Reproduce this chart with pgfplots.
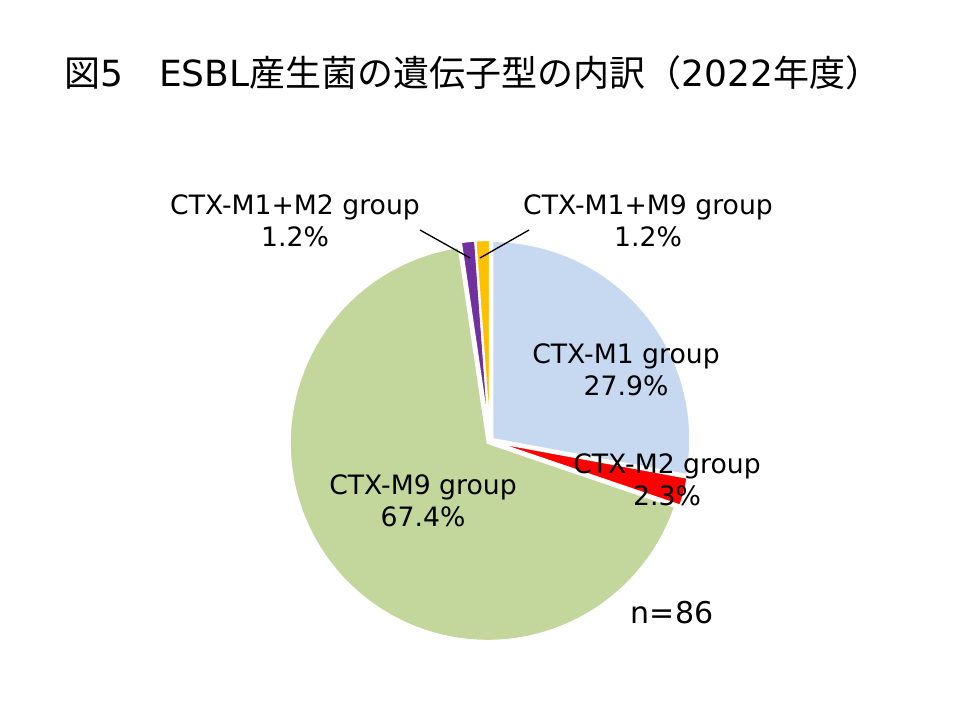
\documentclass[border=0pt]{standalone}
\usepackage{fontspec}
\setmainfont{DejaVu Sans}
\newfontfamily\cjk{Noto Sans CJK JP}
\usepackage{pgfplots}
\usepackage{pgfplotstable}
\pgfplotsset{compat=1.18}
\definecolor{cM1}{HTML}{C6D9F0}
\definecolor{cM2}{HTML}{FF0000}
\definecolor{cM9}{HTML}{C3D69B}
\definecolor{cM1M2}{HTML}{7030A0}
\definecolor{cM1M9}{HTML}{FFC000}
\pgfplotstableread{
label value
M1 24
M2 2
M9 58
M1M2 1
M1M9 1
}\datatable
\newcommand\slice[3]{%
 \pgfmathsetmacro\ox{490+3*sin((#1+#2)/2)}%
 \pgfmathsetmacro\oy{441-3*cos((#1+#2)/2)}%
 \edef\tmp{\noexpand\addplot[fill=#3, draw=white, line width=1.6pt, domain=#1:#2, samples=90] ({\ox+198*sin(x)},{\oy-198*cos(x)}) -- (axis cs:\ox,\oy) -- cycle;}\tmp}
\begin{document}
\begin{tikzpicture}
\pgfplotstablegetelem{0}{value}\of\datatable\pgfmathsetmacro\va{\pgfplotsretval}
\pgfplotstablegetelem{1}{value}\of\datatable\pgfmathsetmacro\vb{\pgfplotsretval}
\pgfplotstablegetelem{2}{value}\of\datatable\pgfmathsetmacro\vc{\pgfplotsretval}
\pgfplotstablegetelem{3}{value}\of\datatable\pgfmathsetmacro\vd{\pgfplotsretval}
\pgfplotstablegetelem{4}{value}\of\datatable\pgfmathsetmacro\ve{\pgfplotsretval}
\pgfmathsetmacro\tot{\va+\vb+\vc+\vd+\ve}
\pgfmathsetmacro\aA{360*(\va/\tot)}
\pgfmathsetmacro\aB{360*((\va+\vb)/\tot)}
\pgfmathsetmacro\aC{360*((\va+\vb+\vc)/\tot)}
\pgfmathsetmacro\aD{360*((\va+\vb+\vc+\vd)/\tot)}
\begin{axis}[
  at={(0,0)}, anchor=south west,
  scale only axis, width=720pt, height=540pt,
  xmin=0, xmax=960, ymin=0, ymax=720, y dir=reverse,
  hide axis, clip=false]
\slice{0}{\aA}{cM1}
\slice{\aA}{\aB}{cM2}
\slice{\aB}{\aC}{cM9}
\slice{\aC}{\aD}{cM1M2}
\slice{\aD}{360}{cM1M9}
\node[anchor=west, inner sep=0pt, font=\fontsize{27}{31}\selectfont] at (axis cs:64,73)
  {{\cjk 図}5{\cjk 　}ESBL{\cjk 産生菌の遺伝子型の内訳（}2022{\cjk 年度）}};
\tikzset{lab/.style={align=center, inner sep=0pt, font=\fontsize{20}{24}\selectfont}}
\node[lab] at (axis cs:626,370) {CTX-M1 group\\27.9\%};
\node[lab] at (axis cs:667,480) {CTX-M2 group\\2.3\%};
\node[lab] at (axis cs:423,501) {CTX-M9 group\\67.4\%};
\node[lab] at (axis cs:295,221) {CTX-M1+M2 group\\1.2\%};
\node[lab] at (axis cs:648,221) {CTX-M1+M9 group\\1.2\%};
\node[inner sep=0pt, font=\fontsize{22.5}{27}\selectfont] at (axis cs:672,613) {n=86};
\draw[black, line width=1pt] (axis cs:420,230) -- (axis cs:470,258);
\draw[black, line width=1pt] (axis cs:529,230) -- (axis cs:480,258);
\end{axis}
\pgfresetboundingbox
\useasboundingbox (0,0) rectangle (720pt,540pt);
\end{tikzpicture}
\end{document}
